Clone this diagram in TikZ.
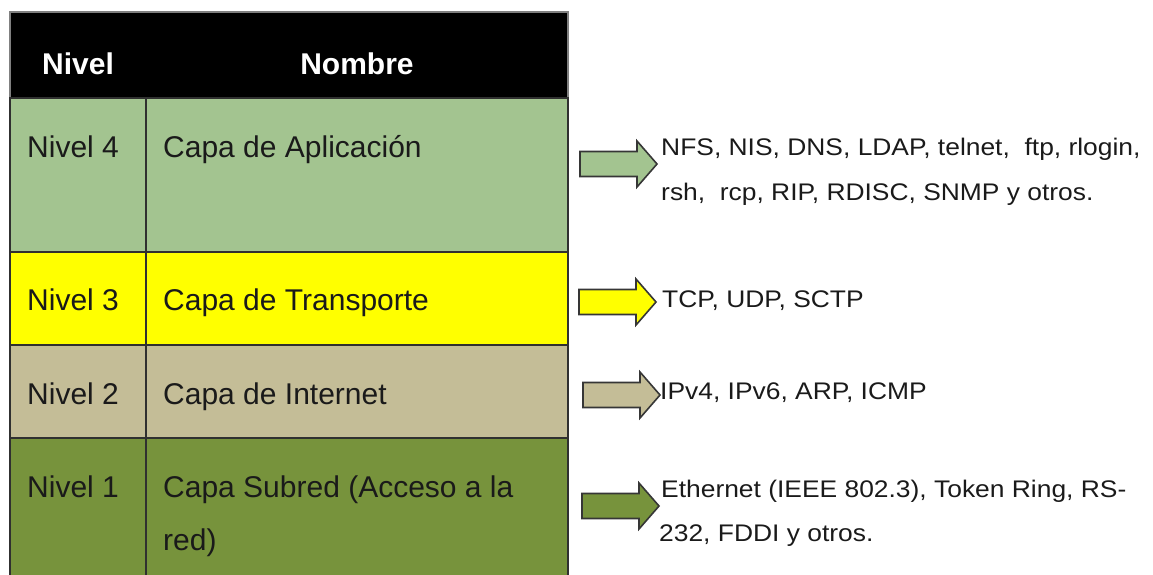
\documentclass[tikz,border=0pt]{standalone}
\usepackage{fontspec}
\setmainfont{Liberation Sans}
\newfontfamily\sidefont[FakeStretch=1.1]{Liberation Sans}
\definecolor{gridc}{HTML}{303030}
\definecolor{hdrtop}{HTML}{808080}
\definecolor{cfour}{HTML}{A3C490}
\definecolor{cthree}{HTML}{FFFF00}
\definecolor{ctwo}{HTML}{C4BD97}
\definecolor{cone}{HTML}{77933C}
\definecolor{arrowc}{HTML}{363636}
\definecolor{txt}{HTML}{1A1A1A}
\newcommand\sidearrow[3]{%
  \filldraw[blockarrow, fill=#3, shift={(#1,#2)}]
    (0,-12.5) -- (57,-12.5) -- (57,-23) -- (77,0) -- (57,23) -- (57,12.5) -- (0,12.5) -- cycle;}
\begin{document}
\begin{tikzpicture}[x=1pt,y=-1pt,
  cell/.style={draw=gridc, line width=1.3pt, anchor=north west, inner sep=0pt, outer sep=0pt},
  hdr/.style={font=\fontsize{30}{36}\selectfont\bfseries, text=white, anchor=base, inner sep=0pt},
  ctext/.style={font=\fontsize{30}{36}\selectfont, text=txt, anchor=base west, inner sep=0pt},
  stext/.style={font=\sidefont\fontsize{24}{30}\selectfont, text=txt, anchor=base west, inner sep=0pt},
  blockarrow/.style={draw=arrowc, line width=1.6pt, line join=miter}]
\useasboundingbox (0,0) rectangle (1153,574);
% table cells
\node[cell, draw=hdrtop, fill=black, minimum width=558pt, minimum height=86pt] (head) at (10,12) {};
\node[cell, fill=cfour, minimum width=136pt, minimum height=154pt] (n4) at (10,98) {};
\node[cell, fill=cfour, minimum width=422pt, minimum height=154pt] (m4) at (146,98) {};
\node[cell, fill=cthree, minimum width=136pt, minimum height=93pt] (n3) at (10,252) {};
\node[cell, fill=cthree, minimum width=422pt, minimum height=93pt] (m3) at (146,252) {};
\node[cell, fill=ctwo, minimum width=136pt, minimum height=93pt] (n2) at (10,345) {};
\node[cell, fill=ctwo, minimum width=422pt, minimum height=93pt] (m2) at (146,345) {};
\node[cell, fill=cone, minimum width=136pt, minimum height=142pt] (n1) at (10,438) {};
\node[cell, fill=cone, minimum width=422pt, minimum height=142pt] (m1) at (146,438) {};
% header
\node[hdr] (hn) at (78,74) {Nivel};
\node[hdr] (hm) at (357,74) {Nombre};
% row texts
\node[ctext] (tn4) at (27,157) {Nivel 4};
\node[ctext] (tm4) at (163,157) {Capa de Aplicación};
\node[ctext] (tn3) at (27,310) {Nivel 3};
\node[ctext] (tm3) at (163,310) {Capa de Transporte};
\node[ctext] (tn2) at (27,404) {Nivel 2};
\node[ctext] (tm2) at (163,404) {Capa de Internet};
\node[ctext] (tn1) at (27,497) {Nivel 1};
\node[ctext] (tm1a) at (163,497) {Capa Subred (Acceso a la};
\node[ctext] (tm1b) at (163,550) {red)};
% arrows
\sidearrow{580}{164}{cfour}
\sidearrow{579}{302}{cthree}
\sidearrow{583}{395}{ctwo}
\sidearrow{582}{506}{cone}
% side texts
\node[stext] (s4a) at (661,155) {NFS, NIS, DNS, LDAP, telnet, \ ftp, rlogin,};
\node[stext] (s4b) at (661,200) {rsh, \ rcp, RIP, RDISC, SNMP y otros.};
\node[stext] (s3) at (662,307) {TCP, UDP, SCTP};
\node[stext] (s2) at (660,399) {IPv4, IPv6, ARP, ICMP};
\node[stext] (s1a) at (661,497) {Ethernet (IEEE 802.3), Token Ring, RS-};
\node[stext] (s1b) at (659,541) {232, FDDI y otros.};
\end{tikzpicture}
\end{document}
